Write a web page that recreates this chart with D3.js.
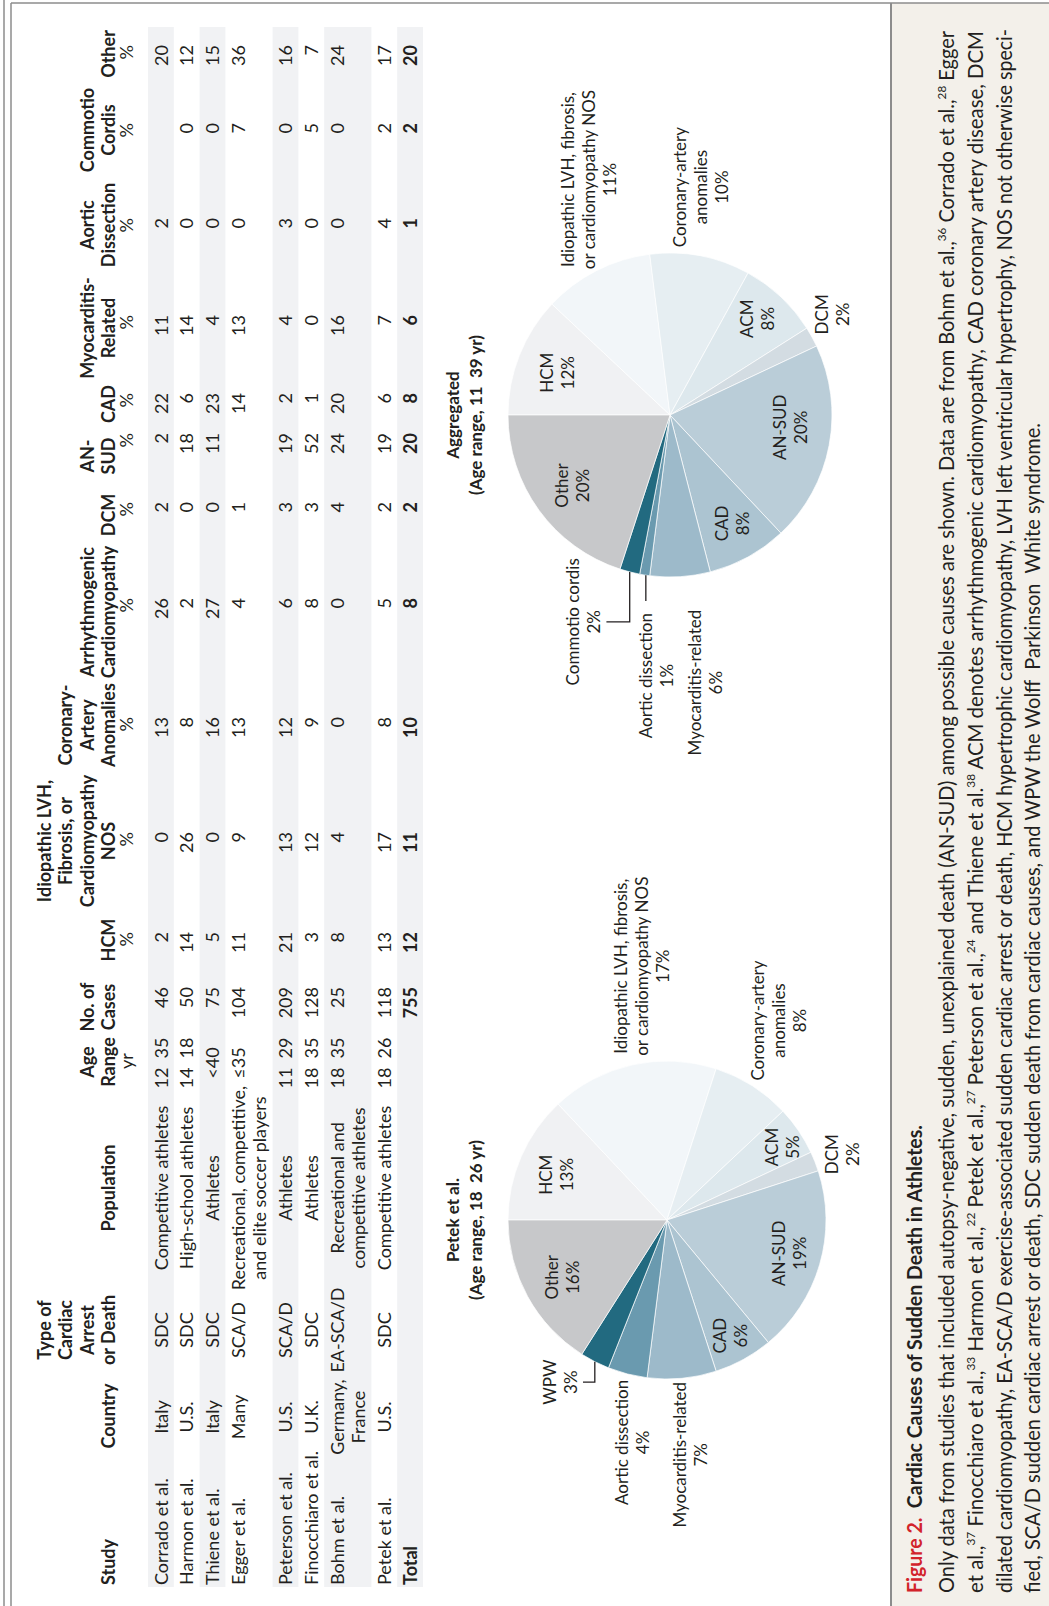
<!DOCTYPE html>
<html>
<head>
<meta charset="utf-8">
<script src="https://cdn.jsdelivr.net/npm/d3@7"></script>
<style>
body { margin: 0; background: #fff; }
svg { display: block; }
text { font-family: Lato, "Open Sans", sans-serif; fill: #231f20; }
</style>
</head>
<body>
<div id="chart"></div>
<script>
////////////// TABLE DATA //////////////
var studies = ["Corrado et al.", "Harmon et al.", "Thiene et al.", "Egger et al.",
    "Peterson et al.", "Finocchiaro et al.", "Bohm et al.", "Petek et al."];
var countries = [["Italy"], ["U.S."], ["Italy"], ["Many"], ["U.S."], ["U.K."], ["Germany,", "France"], ["U.S."]];
var arrestTypes = ["SDC", "SDC", "SDC", "SCA/D", "SCA/D", "SDC", "EA-SCA/D", "SDC"];
var populations = [["Competitive athletes"], ["High-school athletes"], ["Athletes"],
    ["Recreational, competitive,", "and elite soccer players"], ["Athletes"], ["Athletes"],
    ["Recreational and", "competitive athletes"], ["Competitive athletes"]];
var ageRanges = ["12\u00a0\u00a035", "14\u00a0\u00a018", "<40", "\u226435", "11\u00a0\u00a029", "18\u00a0\u00a035", "18\u00a0\u00a035", "18\u00a0\u00a026"];
var caseCounts = [46, 50, 75, 104, 209, 128, 25, 118];

var hcmPct = [2, 14, 5, 11, 21, 3, 8, 13];
var lvhPct = [0, 26, 0, 9, 13, 12, 4, 17];
var coronaryPct = [13, 8, 16, 13, 12, 9, 0, 8];
var acmPct = [26, 2, 27, 4, 6, 8, 0, 5];
var dcmPct = [2, 0, 0, 1, 3, 3, 4, 2];
var ansudPct = [2, 18, 11, null, 19, 52, 24, 19];
var cadPct = [22, 6, 23, 14, 2, 1, 20, 6];
var myoPct = [11, 14, 4, 13, 4, 0, 16, 7];
var aorticPct = [2, 0, 0, 0, 3, 0, 0, 4];
var commotioPct = [null, 0, 0, 7, 0, 5, 0, 2];
var otherPct = [20, 12, 15, 36, 16, 7, 24, 17];

var totalCases = 755;
var totalPct = [12, 11, 10, 8, 2, 20, 8, 6, 1, 2, 20];

var pctHeaders = [["HCM"], ["Idiopathic LVH,", "Fibrosis, or", "Cardiomyopathy", "NOS"],
    ["Coronary-", "Artery", "Anomalies"], ["Arrhythmogenic", "Cardiomyopathy"], ["DCM"],
    ["AN-", "SUD"], ["CAD"], ["Myocarditis-", "Related"], ["Aortic", "Dissection"],
    ["Commotio", "Cordis"], ["Other"]];

////////////// PIE DATA //////////////
var pieCategories = ["HCM", "Idiopathic LVH", "Coronary-artery anomalies", "ACM", "DCM", "AN-SUD",
    "CAD", "Myocarditis-related", "Aortic dissection", "WPW", "Commotio cordis", "Other"];
var petekShares = [13, 17, 8, 5, 2, 19, 6, 7, 4, 3, 0, 16];
var aggregatedShares = [12, 11, 10, 8, 2, 20, 8, 6, 1, 0, 2, 20];
var petekTitle = ["Petek et al.", "(Age range, 18\u00a0\u00a026 yr)"];
var aggregatedTitle = ["Aggregated", "(Age range, 11\u00a0\u00a039 yr)"];

var labelLines = {
    "HCM": ["HCM"],
    "Idiopathic LVH": ["Idiopathic LVH, fibrosis,", "or cardiomyopathy NOS"],
    "Coronary-artery anomalies": ["Coronary-artery", "anomalies"],
    "ACM": ["ACM"], "DCM": ["DCM"], "AN-SUD": ["AN-SUD"], "CAD": ["CAD"],
    "Myocarditis-related": ["Myocarditis-related"],
    "Aortic dissection": ["Aortic dissection"],
    "WPW": ["WPW"], "Commotio cordis": ["Commotio cordis"], "Other": ["Other"]
};

////////////// CAPTION //////////////
var captionTitle = ["Figure 2.", "Cardiac Causes of Sudden Death in Athletes."];
var captionLines = [
    "Only data from studies that included autopsy-negative, sudden, unexplained death (AN-SUD) among possible causes are shown. Data are from Bohm et al.,^36 Corrado et al.,^28 Egger",
    "et al.,^37 Finocchiaro et al.,^33 Harmon et al.,^22 Petek et al.,^27 Peterson et al.,^24 and Thiene et al.^38 ACM denotes arrhythmogenic cardiomyopathy, CAD coronary artery disease, DCM",
    "dilated cardiomyopathy, EA-SCA/D exercise-associated sudden cardiac arrest or death, HCM hypertrophic cardiomyopathy, LVH left ventricular hypertrophy, NOS not otherwise speci-",
    "fied, SCA/D sudden cardiac arrest or death, SDC sudden death from cardiac causes, and WPW the Wolff\u00a0\u00a0Parkinson\u00a0\u00a0White syndrome."
];

////////////// LAYOUT //////////////
var pctColumns = [hcmPct, lvhPct, coronaryPct, acmPct, dcmPct, ansudPct, cadPct, myoPct, aorticPct, commotioPct, otherPct];
var colKeys = ["hcm", "lvh", "cor", "acm", "dcm", "ansud", "cad", "myo", "aortic", "commotio", "other"];
var numRight = d3.scaleOrdinal().domain(colKeys).range([674, 774, 889, 1008, 1104, 1173, 1213, 1291, 1388, 1483, 1561]);
var headCenter = d3.scaleOrdinal().domain(colKeys).range([666, 765, 881, 994, 1091, 1150, 1202, 1278, 1381, 1476, 1552]);

var sliceColor = d3.scaleOrdinal().domain(pieCategories).range(["#f0f1f3", "#f2f6f9", "#e6eef2", "#dde8ed",
    "#d3dce2", "#bacdd8", "#acc4d1", "#9dbaca", "#6a9aaf", "#226a80", "#226a80", "#c7c8ca"]);

var pieLayout = {
    petek: { cx: 386, cy: 667, r: 159 },
    aggregated: { cx: 1191, cy: 670, r: 162 }
};

//label distance from pie centre (px) and angle nudge (deg) off the slice middle
var labelSpots = {
    petek: {
        "HCM": { d: 119, da: -1 }, "Other": { d: 119, da: 0 }, "AN-SUD": { d: 127, da: -1 },
        "CAD": { d: 132, da: 0 }, "ACM": { d: 137, da: 2 },
        "Idiopathic LVH": { d: 255, da: 7 }, "Coronary-artery anomalies": { d: 229, da: -3 },
        "DCM": { d: 187, da: 1 }, "WPW": { d: 194, da: 6.3, leader: "elbow" },
        "Aortic dissection": { d: 225, da: -5.7 }, "Myocarditis-related": { d: 236, da: -0.4 }
    },
    aggregated: {
        "HCM": { d: 120, da: -1 }, "Other": { d: 120, da: 0 }, "AN-SUD": { d: 121, da: -5 },
        "CAD": { d: 125, da: -1 }, "ACM": { d: 130, da: -1 },
        "Idiopathic LVH": { d: 249, da: 8 }, "Coronary-artery anomalies": { d: 230, da: -3 },
        "DCM": { d: 191, da: -3 }, "Commotio cordis": { d: 224, da: 8.2, leader: "elbow" },
        "Aortic dissection": { d: 261, da: -6, leader: "straight" }, "Myocarditis-related": { d: 270, da: -4 }
    }
};

//Main canvas: page drawn unrotated (1606 x 1049) then turned a quarter
var svg = d3.select("#chart")
    .append("svg")
    .attr("width", 1049)
    .attr("height", 1606);

svg.append("rect").attr("width", 1049).attr("height", 1606).attr("fill", "#fff");

var page = svg.append("g").attr("transform", "translate(0,1606) rotate(-90)");

//Frame and caption panel
page.append("rect").attr("x", 0).attr("y", 892).attr("width", 1603).attr("height", 157).attr("fill", "#f3f0ea");
page.append("line").attr("x1", 0).attr("x2", 1603).attr("y1", 891).attr("y2", 891)
    .attr("stroke", "#8c8c8c").attr("stroke-width", 2);
page.append("line").attr("x1", 0).attr("x2", 1606).attr("y1", 4).attr("y2", 4)
    .attr("stroke", "#8c8c8c").attr("stroke-width", 1.5);
page.append("line").attr("x1", 0).attr("x2", 1603).attr("y1", 11).attr("y2", 11)
    .attr("stroke", "#8c8c8c").attr("stroke-width", 1.5);
page.append("line").attr("x1", 1603).attr("x2", 1603).attr("y1", 11).attr("y2", 1049)
    .attr("stroke", "#8c8c8c").attr("stroke-width", 1.5);

//Table
var rows = studies.map(function(s, i) {
    return {
        study: s, country: countries[i], type: arrestTypes[i], pop: populations[i],
        age: ageRanges[i], cases: caseCounts[i],
        pct: pctColumns.map(function(col) { return col[i]; }),
        lines: Math.max(countries[i].length, populations[i].length)
    };
});
rows.push({ study: "Total", country: [], type: "", pop: [], age: "", cases: totalCases, pct: totalPct, lines: 1, total: true });

var acc = 148;
rows.forEach(function(r) {
    r.top = acc;
    r.h = 25.8 + 21.4 * (r.lines - 1);
    acc += r.h;
});

var table = page.append("g").attr("class", "table");

table.selectAll("rect.band")
    .data(rows.filter(function(d, i) { return i % 2 == 0; }))
    .enter()
    .append("rect")
    .attr("class", "band")
    .attr("x", 19)
    .attr("width", 1560)
    .attr("y", function(d) { return d.top; })
    .attr("height", function(d) { return d.h; })
    .attr("fill", "#f1f2f4");

function multiText(g, lines, x, y, anchor, bold) {
    var t = g.append("text")
        .attr("text-anchor", anchor)
        .attr("font-size", 18)
        .attr("font-weight", bold ? 700 : 400);
    lines.forEach(function(l, j) {
        t.append("tspan").attr("x", x).attr("y", y + j * 21.4).text(l);
    });
    return t;
}

var rowG = table.selectAll("g.row")
    .data(rows)
    .enter()
    .append("g")
    .attr("class", "row");

rowG.each(function(d) {
    var g = d3.select(this);
    var y = d.top + 19.5;
    multiText(g, [d.study], 21, y, "start", d.total);
    multiText(g, d.country, 189, y, "middle");
    multiText(g, [d.type], 276, y, "middle");
    multiText(g, d.pop, 418, y, "middle");
    multiText(g, [d.age], 543, y, "middle");
    multiText(g, [d.cases], 619, y, "end", d.total);
    d.pct.forEach(function(v, k) {
        if (v === null) return;
        multiText(g, [v], numRight(colKeys[k]), y, "end", d.total);
    });
});

//Headers
var headBase = 115, headStep = 21.5, unitBase = 133;
function header(lines, x, unit, unitX, unitAnchor) {
    var t = table.append("text")
        .attr("text-anchor", "middle")
        .attr("font-size", 18)
        .attr("font-weight", 700);
    lines.forEach(function(l, j) {
        t.append("tspan").attr("x", x).attr("y", headBase - headStep * (lines.length - 1 - j)).text(l);
    });
    if (unit) {
        table.append("text")
            .attr("x", unitX)
            .attr("y", unitBase)
            .attr("text-anchor", unitAnchor)
            .attr("font-size", 18)
            .text(unit);
    }
}
table.append("text").attr("x", 21).attr("y", headBase).attr("font-size", 18).attr("font-weight", 700).text("Study");
header(["Country"], 190);
header(["Type of", "Cardiac", "Arrest", "or Death"], 276);
header(["Population"], 418);
header(["Age", "Range"], 544, "yr", 545, "middle");
header(["No. of", "Cases"], 599);
pctHeaders.forEach(function(lines, k) {
    header(lines, headCenter(colKeys[k]), "%", numRight(colKeys[k]), "end");
});

//Pies
var pie = d3.pie().sort(null).value(function(d) { return d.share; });

function drawPie(key, shares, title) {
    var L = pieLayout[key];
    var data = pieCategories.map(function(c, i) {
        return { cat: c, share: shares[i] };
    }).filter(function(d) { return d.share > 0; });
    var arcs = pie(data);
    var arc = d3.arc().innerRadius(0).outerRadius(L.r);

    var g = page.append("g").attr("transform", "translate(" + L.cx + "," + L.cy + ")");

    g.selectAll("path")
        .data(arcs)
        .enter()
        .append("path")
        .attr("d", arc)
        .attr("fill", function(d) { return sliceColor(d.data.cat); })
        .attr("stroke", "#fff")
        .attr("stroke-width", 0.7);

    arcs.forEach(function(a) {
        var spot = labelSpots[key][a.data.cat];
        var mid = (a.startAngle + a.endAngle) / 2;
        var ang = mid + spot.da * Math.PI / 180;
        var x = Math.sin(ang) * spot.d, y = -Math.cos(ang) * spot.d;
        var lines = labelLines[a.data.cat].concat([a.data.share + "%"]);
        var n = lines.length;
        var t = g.append("text")
            .attr("text-anchor", "middle")
            .attr("font-size", 17);
        lines.forEach(function(l, j) {
            t.append("tspan")
                .attr("x", x)
                .attr("y", y + (j - (n - 1) / 2) * 21 + 6)
                .text(l);
        });
        if (spot.leader == "elbow") {
            var ex = Math.sin(mid) * L.r, ey = -Math.cos(mid) * L.r;
            var endY = y + ((n - 1) / 2) * 21 + 12;
            g.append("path")
                .attr("d", "M" + ex + "," + ey + "H" + x + "V" + endY)
                .attr("fill", "none")
                .attr("stroke", "#231f20")
                .attr("stroke-width", 1.3);
        } else if (spot.leader == "straight") {
            var y1 = y - ((n - 1) / 2) * 21;
            var w = t.select("tspan").node().getComputedTextLength();
            var cxEdge = -Math.sqrt(L.r * L.r - y1 * y1);
            g.append("path")
                .attr("d", "M" + (x + w / 2 + 12) + "," + y1 + "H" + cxEdge)
                .attr("fill", "none")
                .attr("stroke", "#231f20")
                .attr("stroke-width", 1.3);
        }
    });

    var tt = page.append("text")
        .attr("text-anchor", "middle")
        .attr("font-size", 17)
        .attr("font-weight", 700);
    title.forEach(function(l, j) {
        tt.append("tspan").attr("x", L.cx).attr("y", 459 + j * 23).text(l);
    });
}

drawPie("petek", petekShares, petekTitle);
drawPie("aggregated", aggregatedShares, aggregatedTitle);

//Caption
var cap = page.append("g").attr("class", "caption");
var capTitle = cap.append("text")
    .attr("x", 13)
    .attr("y", 922)
    .attr("font-size", 20.5)
    .attr("font-weight", 700)
    .attr("textLength", 468)
    .attr("lengthAdjust", "spacingAndGlyphs");
capTitle.append("tspan").style("fill", "#d2232a").text(captionTitle[0]);
capTitle.append("tspan").text("\u00a0 " + captionTitle[1]);

var capLengths = [1562, 1562, 1564, 1170];
captionLines.forEach(function(line, i) {
    var t = cap.append("text")
        .attr("x", 13)
        .attr("y", 954 + i * 28.8)
        .attr("font-size", 20.5)
        .attr("textLength", capLengths[i])
        .attr("lengthAdjust", "spacingAndGlyphs");
    var parts = line.split(/(\^\d+)/);
    var raised = false;
    parts.forEach(function(p) {
        if (p === "") return;
        if (p.charAt(0) == "^") {
            t.append("tspan").attr("font-size", 12).attr("dy", -8).text(p.slice(1));
            raised = true;
        } else {
            t.append("tspan").attr("dy", raised ? 8 : 0).text(p);
            raised = false;
        }
    });
});
</script>
</body>
</html>
